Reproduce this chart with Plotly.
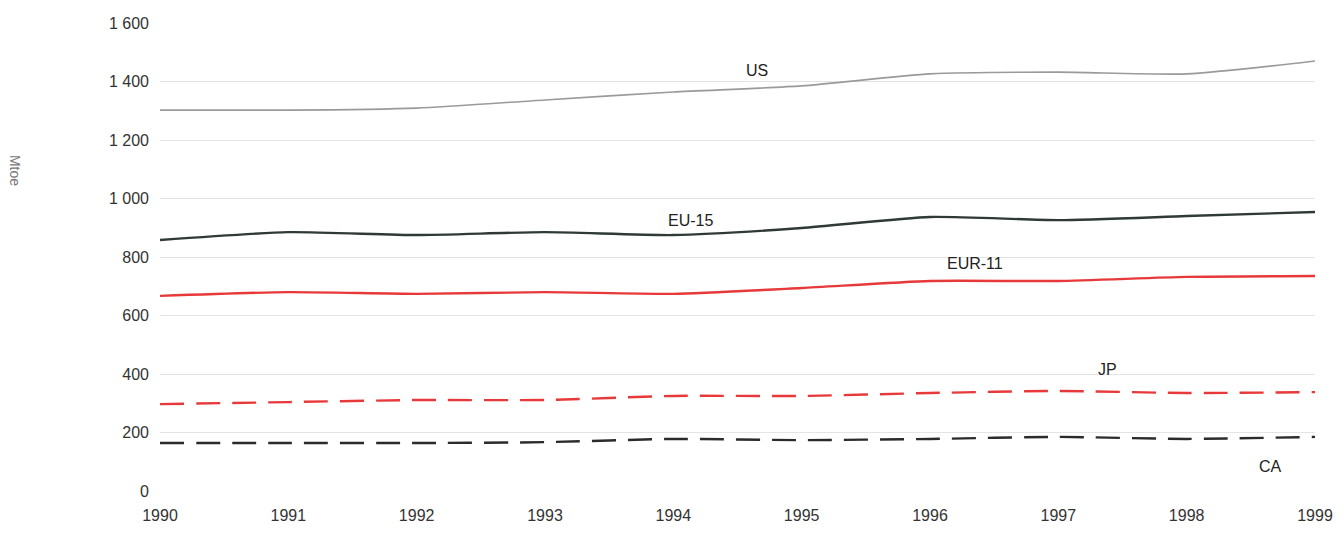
import plotly.graph_objects as go

years = [1990, 1991, 1992, 1993, 1994, 1995, 1996, 1997, 1998, 1999]
us = [1302, 1302, 1309, 1337, 1364, 1385, 1426, 1432, 1426, 1470]
eu15 = [858, 885, 875, 885, 875, 899, 937, 926, 940, 954]
eur11 = [667, 680, 674, 680, 674, 694, 718, 718, 732, 735]
jp = [297, 304, 311, 311, 325, 325, 335, 342, 335, 338]
ca = [164, 164, 164, 167, 178, 174, 178, 185, 178, 185]

series_names = ["US", "EU-15", "EUR-11", "JP", "CA"]
label_x = [1994.65, 1994.13, 1996.35, 1997.38, 1998.65]
label_y = [1439, 926, 779, 417, 85]
y_tickvals = [0, 200, 400, 600, 800, 1000, 1200, 1400, 1600]
y_ticktext = ["0", "200", "400", "600", "800", "1 000", "1 200", "1 400", "1 600"]
y_title = "Mtoe"

FONT = "Liberation Sans, Arial"

styles = [
    dict(color="#9a9a9a", width=1.6, dash="solid"),
    dict(color="#2f3a36", width=2.4, dash="solid"),
    dict(color="#e8393a", width=2.4, dash="solid"),
    dict(color="#e8393a", width=2.4, dash="24px,12px"),
    dict(color="#2b2b2b", width=2.4, dash="24px,12px"),
]

fig = go.Figure()
for name, vals, st in zip(series_names, [us, eu15, eur11, jp, ca], styles):
    fig.add_trace(go.Scatter(x=years, y=vals, mode="lines", name=name,
                             line=dict(shape="spline", smoothing=0.6, **st)))

for name, lx, ly in zip(series_names, label_x, label_y):
    fig.add_annotation(x=lx, y=ly, text=name, showarrow=False,
                       font=dict(size=16, color="#222222", family=FONT))

fig.add_annotation(xref="paper", yref="paper", x=-0.1255, y=0.686, text=y_title,
                   xanchor="center", yanchor="middle",
                   textangle=90, showarrow=False,
                   font=dict(size=14, color="#777777", family=FONT))

fig.update_layout(
    width=1327, height=518,
    margin=dict(l=152, r=20, t=15, b=35, autoexpand=False),
    paper_bgcolor="white", plot_bgcolor="white",
    showlegend=False,
    font=dict(family=FONT, size=16, color="#333333"),
)
fig.update_xaxes(range=[1990, 1999], tickvals=years, ticktext=[str(y) for y in years],
                 showgrid=False, zeroline=False, showline=False, ticks="",
                 ticklabelstandoff=13, automargin=False,
                 tickfont=dict(size=16, color="#333333", family=FONT))
fig.update_yaxes(range=[0, 1600], tickvals=y_tickvals, ticktext=y_ticktext,
                 showgrid=True, gridcolor="#e4e4e4", gridwidth=1,
                 zeroline=False, showline=False, ticks="", ticklabelstandoff=10,
                 automargin=False,
                 tickfont=dict(size=16, color="#333333", family=FONT))

fig.write_html("out.html")
